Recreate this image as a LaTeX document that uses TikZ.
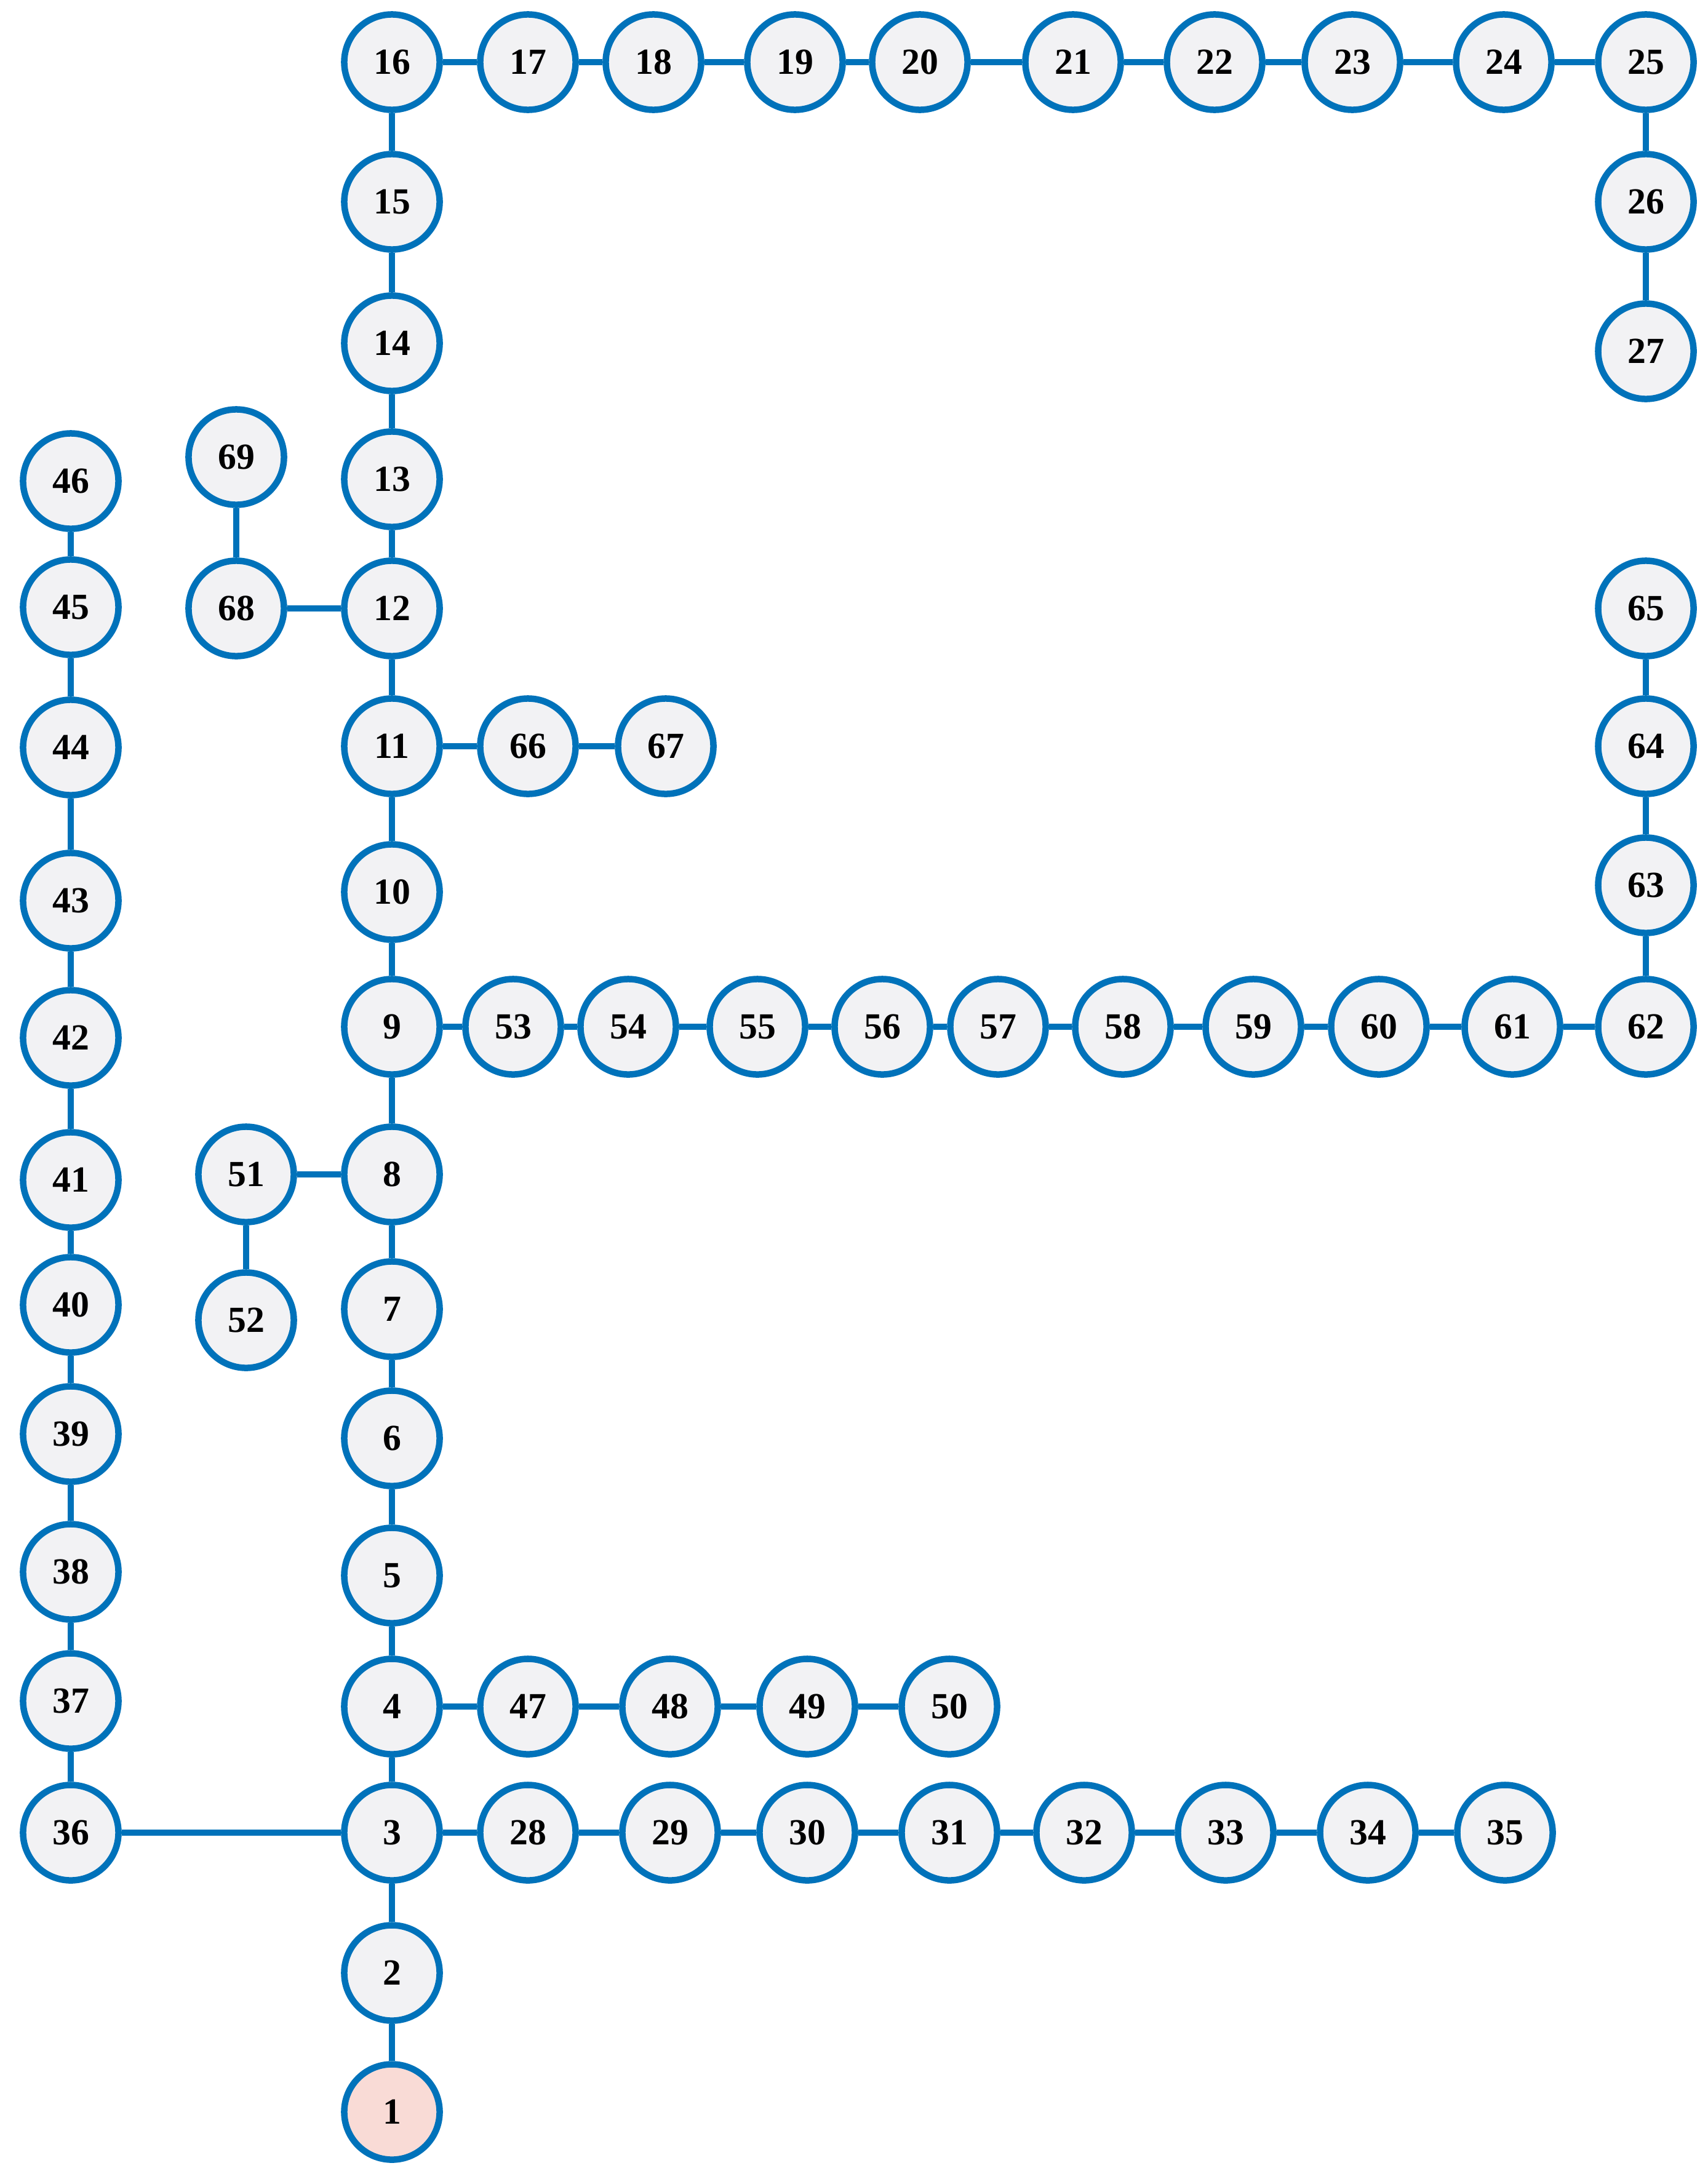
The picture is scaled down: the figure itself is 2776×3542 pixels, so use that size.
\documentclass[tikz,border=0pt]{standalone}
\usepackage{fontspec}
\setmainfont{Liberation Serif}
\definecolor{nblue}{RGB}{0,114,186}
\definecolor{nfill}{RGB}{242,242,244}
\definecolor{npink}{RGB}{249,219,214}
\begin{document}
\begin{tikzpicture}[x=0.01cm,y=-0.01cm,
  nd/.style={circle,draw=nblue,line width=0.105cm,fill=nfill,minimum size=1.55cm,inner sep=0pt,
    font=\fontsize{17}{17}\selectfont\bfseries},
  src/.style={nd,fill=npink},
  ln/.style={draw=nblue,line width=0.105cm}]
\useasboundingbox (0,0) rectangle (2776,3542);
% main column
\node[src] (n1) at (637,3433) {1};
\node[nd] (n2) at (637,3207) {2};
\node[nd] (n3) at (637,2979) {3};
\node[nd] (n4) at (637,2774) {4};
\node[nd] (n5) at (637,2561) {5};
\node[nd] (n6) at (637,2338) {6};
\node[nd] (n7) at (637,2128) {7};
\node[nd] (n8) at (637,1909) {8};
\node[nd] (n9) at (637,1669) {9};
\node[nd] (n10) at (637,1450) {10};
\node[nd] (n11) at (637,1213) {11};
\node[nd] (n12) at (637,989) {12};
\node[nd] (n13) at (637,779) {13};
\node[nd] (n14) at (637,558) {14};
\node[nd] (n15) at (637,328) {15};
\node[nd] (n16) at (637,101) {16};
% top row
\node[nd] (n17) at (858,101) {17};
\node[nd] (n18) at (1062,101) {18};
\node[nd] (n19) at (1292,101) {19};
\node[nd] (n20) at (1495,101) {20};
\node[nd] (n21) at (1744,101) {21};
\node[nd] (n22) at (1974,101) {22};
\node[nd] (n23) at (2198,101) {23};
\node[nd] (n24) at (2444,101) {24};
\node[nd] (n25) at (2675,101) {25};
\node[nd] (n26) at (2675,328) {26};
\node[nd] (n27) at (2675,571) {27};
% row from 3
\node[nd] (n28) at (858,2979) {28};
\node[nd] (n29) at (1089,2979) {29};
\node[nd] (n30) at (1312,2979) {30};
\node[nd] (n31) at (1543,2979) {31};
\node[nd] (n32) at (1762,2979) {32};
\node[nd] (n33) at (1992,2979) {33};
\node[nd] (n34) at (2223,2979) {34};
\node[nd] (n35) at (2446,2979) {35};
% left column
\node[nd] (n36) at (115,2979) {36};
\node[nd] (n37) at (115,2765) {37};
\node[nd] (n38) at (115,2555) {38};
\node[nd] (n39) at (115,2331) {39};
\node[nd] (n40) at (115,2121) {40};
\node[nd] (n41) at (115,1918) {41};
\node[nd] (n42) at (115,1687) {42};
\node[nd] (n43) at (115,1464) {43};
\node[nd] (n44) at (115,1215) {44};
\node[nd] (n45) at (115,987) {45};
\node[nd] (n46) at (115,782) {46};
% row from 4
\node[nd] (n47) at (858,2774) {47};
\node[nd] (n48) at (1089,2774) {48};
\node[nd] (n49) at (1312,2774) {49};
\node[nd] (n50) at (1543,2774) {50};
% branch from 8
\node[nd] (n51) at (400,1909) {51};
\node[nd] (n52) at (400,2146) {52};
% row from 9
\node[nd] (n53) at (834,1669) {53};
\node[nd] (n54) at (1021,1669) {54};
\node[nd] (n55) at (1231,1669) {55};
\node[nd] (n56) at (1434,1669) {56};
\node[nd] (n57) at (1622,1669) {57};
\node[nd] (n58) at (1825,1669) {58};
\node[nd] (n59) at (2037,1669) {59};
\node[nd] (n60) at (2241,1669) {60};
\node[nd] (n61) at (2458,1669) {61};
\node[nd] (n62) at (2675,1669) {62};
\node[nd] (n63) at (2675,1439) {63};
\node[nd] (n64) at (2675,1213) {64};
\node[nd] (n65) at (2675,989) {65};
% branch from 11
\node[nd] (n66) at (858,1213) {66};
\node[nd] (n67) at (1082,1213) {67};
% branch from 12
\node[nd] (n68) at (384,989) {68};
\node[nd] (n69) at (384,743) {69};
% edges
\foreach \a/\b in {1/2,2/3,3/4,4/5,5/6,6/7,7/8,8/9,9/10,10/11,11/12,12/13,13/14,14/15,15/16,
  16/17,17/18,18/19,19/20,20/21,21/22,22/23,23/24,24/25,25/26,26/27,
  3/28,28/29,29/30,30/31,31/32,32/33,33/34,34/35,
  3/36,36/37,37/38,38/39,39/40,40/41,41/42,42/43,43/44,44/45,45/46,
  4/47,47/48,48/49,49/50,8/51,51/52,
  9/53,53/54,54/55,55/56,56/57,57/58,58/59,59/60,60/61,61/62,62/63,63/64,64/65,
  11/66,66/67,12/68,68/69}
  \draw[ln] (n\a) -- (n\b);
\end{tikzpicture}
\end{document}
